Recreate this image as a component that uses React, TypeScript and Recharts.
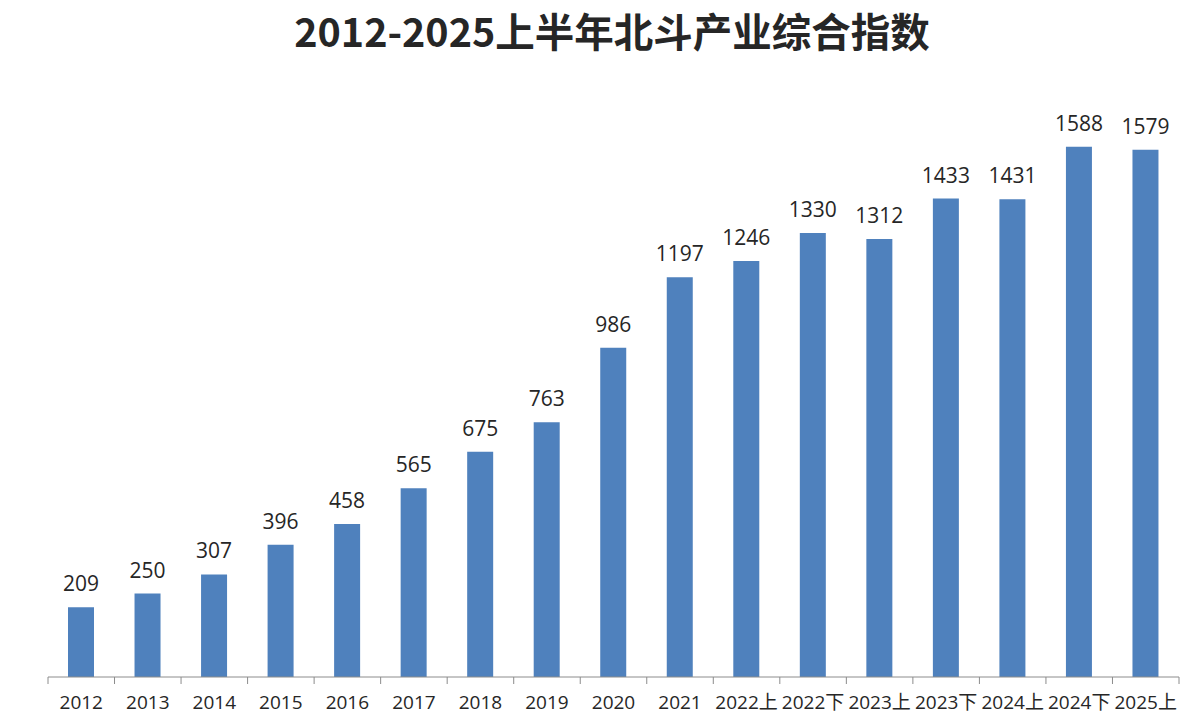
import React from 'react';
import { BarChart, Bar, XAxis, YAxis, LabelList } from 'recharts';

const categories = ['2012', '2013', '2014', '2015', '2016', '2017', '2018', '2019', '2020', '2021', '2022上', '2022下', '2023上', '2023下', '2024上', '2024下', '2025上'];
const indexValues = [209, 250, 307, 396, 458, 565, 675, 763, 986, 1197, 1246, 1330, 1312, 1433, 1431, 1588, 1579];

const data = categories.map((name, i) => ({ name, value: indexValues[i] }));

const FONT = "'Open Sans', 'Noto Sans CJK SC', sans-serif";
const AXIS_COLOR = '#8c8c8c';

// ticks sit between categories in the original, so draw them at band edges
const BoundaryTick = (props: any) => {
  const { x, y, payload, index, visibleTicksCount } = props;
  const half = payload.offset ?? 0;
  const isLast = index === visibleTicksCount - 1;
  return (
    <g>
      <line x1={x - half} x2={x - half} y1={y - 8} y2={y - 1} stroke={AXIS_COLOR} strokeWidth={1} />
      {isLast && <line x1={x + half} x2={x + half} y1={y - 8} y2={y - 1} stroke={AXIS_COLOR} strokeWidth={1} />}
      <text x={x} y={y + 24} textAnchor="middle" fill="#262626" fontSize={19} fontFamily={FONT}>
        {payload.value}
      </text>
    </g>
  );
};

const App: React.FC = () => {
  return (
    <div style={{ position: 'absolute', left: 0, top: 0, width: 1196, height: 724, background: '#fff' }}>
      <div
        style={{
          position: 'absolute',
          left: 0,
          top: 5,
          width: 1224,
          textAlign: 'center',
          fontFamily: "'Noto Sans CJK SC', sans-serif",
          fontWeight: 700,
          fontSize: 39.5,
          lineHeight: '50px',
          color: '#262626',
        }}
      >
        2012-2025上半年北斗产业综合指数
      </div>
      <BarChart
        width={1196}
        height={724}
        data={data}
        margin={{ top: 76, right: 17, left: 48, bottom: 0 }}
        barCategoryGap={0}
      >
        <XAxis
          dataKey="name"
          interval={0}
          height={47}
          axisLine={{ stroke: AXIS_COLOR }}
          tickLine={false}
          tick={<BoundaryTick />}
        />
        <YAxis hide domain={[0, 1800]} />
        <Bar dataKey="value" fill="#4f81bd" barSize={26} isAnimationActive={false}>
          <LabelList dataKey="value" position="top" offset={16} fill="#262626" fontSize={21} fontFamily={FONT} />
        </Bar>
      </BarChart>
    </div>
  );
};

export default App;
